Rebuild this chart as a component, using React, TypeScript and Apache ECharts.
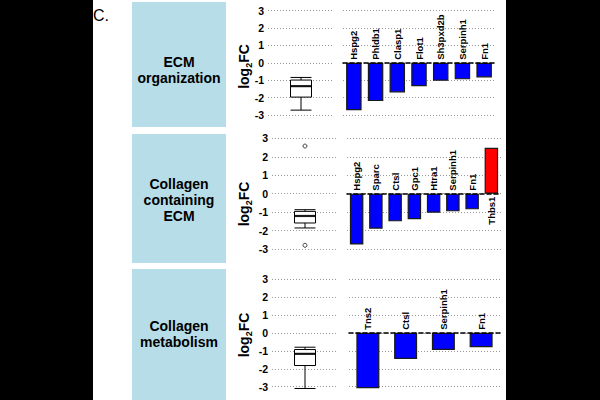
import React, { useEffect, useRef } from "react";
import * as echarts from "echarts";

// Gene-set panels: log2 fold change per gene, with a summary box plot
const panelTitles = ["ECM\norganization", "Collagen\ncontaining\nECM", "Collagen\nmetabolism"];

const genesEcmOrg = ["Hspg2", "Phldb1", "Clasp1", "Flot1", "Sh3pxd2b", "Serpinh1", "Fn1"];
const fcEcmOrg = [-2.72, -2.2, -1.7, -1.34, -1.03, -0.95, -0.84];

const genesCollagenEcm = ["Hspg2", "Sparc", "Ctsl", "Gpc1", "Htra1", "Serpinh1", "Fn1", "Thbs1"];
const fcCollagenEcm = [-2.76, -1.9, -1.5, -1.39, -1.03, -0.96, -0.85, 2.49];

const genesCollagenMet = ["Tns2", "Ctsl", "Serpinh1", "Fn1"];
const fcCollagenMet = [-3.08, -1.45, -0.95, -0.8];

// box plot summaries: [lower whisker, Q1, median, Q3, upper whisker]
const boxEcmOrg = [-2.72, -1.97, -1.34, -0.99, -0.84];
const boxCollagenEcm = [-1.86, -1.59, -1.21, -0.96, -0.87];
const boxCollagenMet = [-3.1, -1.82, -1.17, -0.93, -0.8];
const outliersCollagenEcm = [2.58, -2.8];

const yTicks = { min: -3, max: 3, interval: 1 };

const FONT = "'Liberation Sans', Arial, Helvetica, sans-serif";

export default function App() {
  const ref = useRef<HTMLDivElement>(null);

  useEffect(() => {
    if (!ref.current) return;
    const chart = echarts.init(ref.current, null, { renderer: "svg" });

    const rows = [
      { genes: genesEcmOrg, fc: fcEcmOrg, box: boxEcmOrg, outliers: [] as number[], top: 10.7, h: 104.3, boxLeft: 268, barLeft: 343, barW: 152, bw: 15.5 },
      { genes: genesCollagenEcm, fc: fcCollagenEcm, box: boxCollagenEcm, outliers: outliersCollagenEcm, top: 138.3, h: 110.7, boxLeft: 272, barLeft: 347, barW: 154, bw: 13.5 },
      { genes: genesCollagenMet, fc: fcCollagenMet, box: boxCollagenMet, outliers: [] as number[], top: 279, h: 107.7, boxLeft: 272, barLeft: 349, barW: 151, bw: 23 },
    ];

    const grid: any[] = [];
    const xAxis: any[] = [];
    const yAxis: any[] = [];
    const series: any[] = [];

    const splitLine = { show: true, lineStyle: { color: "#9a9a9a", type: [1, 2], width: 1 } };

    rows.forEach((r, i) => {
      const bi = i * 2;
      const ci = i * 2 + 1;
      grid.push({ left: r.boxLeft, width: 66, top: r.top, height: r.h, outerBoundsMode: "none" });
      grid.push({ left: r.barLeft, width: r.barW, top: r.top, height: r.h, outerBoundsMode: "none" });

      xAxis.push({ type: "category", gridIndex: bi, data: ["set"], show: false });
      xAxis.push({
        type: "category",
        gridIndex: ci,
        data: r.genes,
        axisLabel: { show: false },
        axisTick: { show: false },
        splitLine: { show: false },
        axisLine: { show: true, onZero: true, lineStyle: { color: "#000", width: 1.6, type: [4, 3] } },
        z: 5,
      });

      yAxis.push({
        type: "value",
        gridIndex: bi,
        ...yTicks,
        axisLine: { show: false },
        axisTick: { show: false },
        splitLine,
        axisLabel: { show: true, color: "#000", fontSize: 10.5, fontWeight: "bold", fontFamily: FONT, margin: 4 },
      });
      yAxis.push({
        type: "value",
        gridIndex: ci,
        ...yTicks,
        axisLine: { show: false },
        axisTick: { show: false },
        splitLine,
        axisLabel: { show: false },
      });

      series.push({
        type: "boxplot",
        xAxisIndex: bi,
        yAxisIndex: bi,
        data: [r.box],
        boxWidth: [21, 21],
        itemStyle: { color: "#fff", borderColor: "#000", borderWidth: 1 },
      });
      series.push({
        type: "scatter",
        xAxisIndex: bi,
        yAxisIndex: bi,
        symbol: "rect",
        symbolSize: [21, 2.2],
        data: [[0, r.box[2]]],
        itemStyle: { color: "#000" },
        z: 4,
      });
      if (r.outliers.length) {
        series.push({
          type: "scatter",
          xAxisIndex: bi,
          yAxisIndex: bi,
          symbol: "circle",
          symbolSize: 4,
          data: r.outliers.map((v) => [0, v]),
          itemStyle: { color: "#fff", borderColor: "#000", borderWidth: 0.9 },
          z: 4,
        });
      }

      const labelBase = {
        show: true,
        formatter: "{b}",
        rotate: 90,
        verticalAlign: "middle",
        distance: 3,
        color: "#000",
        fontSize: 9.5,
        fontWeight: "bold",
        fontFamily: FONT,
      };
      series.push({
        type: "bar",
        xAxisIndex: ci,
        yAxisIndex: ci,
        barWidth: r.bw,
        clip: false,
        data: r.fc.map((v) => ({
          value: v,
          itemStyle: { color: v < 0 ? "#0000FF" : "#FF0000" },
          label: v < 0 ? { ...labelBase, position: "top", align: "left" } : { ...labelBase, position: "bottom", align: "right" },
        })),
        itemStyle: { borderColor: "#1a1a1a", borderWidth: 1.2 },
        z: 3,
      });
    });

    const boxes = [
      { y: 2, h: 125, cy: 70 },
      { y: 134, h: 129, cy: 200 },
      { y: 269, h: 140, cy: 334 },
    ];

    const graphic: any[] = [];
    boxes.forEach((b, i) => {
      graphic.push({
        type: "rect",
        shape: { x: 132, y: b.y, width: 94, height: b.h },
        style: { fill: "#B6DDE8" },
        z: 0,
      });
      graphic.push({
        type: "text",
        x: 179,
        y: b.cy,
        style: {
          text: panelTitles[i],
          font: `bold 14px ${FONT}`,
          fill: "#000",
          align: "center",
          verticalAlign: "middle",
          lineHeight: 16,
        },
        z: 1,
      });
    });

    const yTitleCenters = [66.5, 204, 335];
    yTitleCenters.forEach((cy) => {
      graphic.push({
        type: "text",
        x: 244,
        y: cy,
        rotation: Math.PI / 2,
        style: {
          text: "{a|log}{b|2}{a|FC}",
          align: "center",
          verticalAlign: "middle",
          rich: {
            a: { fontSize: 14, fontWeight: "bold", fontFamily: FONT, fill: "#000", color: "#000", lineHeight: 18 },
            b: { fontSize: 9, fontWeight: "bold", fontFamily: FONT, fill: "#000", color: "#000", verticalAlign: "bottom", lineHeight: 18 },
          },
        },
        z: 1,
      });
    });

    graphic.push({
      type: "text",
      x: 93,
      y: 15,
      style: { text: "C.", font: `16px ${FONT}`, fill: "#000", align: "left", verticalAlign: "middle" },
      z: 1,
    });
    graphic.push({ type: "rect", shape: { x: 0, y: 0, width: 93, height: 400 }, style: { fill: "#000" }, z: 100 });
    graphic.push({ type: "rect", shape: { x: 506, y: 0, width: 94, height: 400 }, style: { fill: "#000" }, z: 100 });

    chart.setOption({
      animation: false,
      backgroundColor: "#fff",
      grid,
      xAxis,
      yAxis,
      series,
      graphic,
    });

    return () => chart.dispose();
  }, []);

  return <div ref={ref} style={{ position: "absolute", left: 0, top: 0, width: 600, height: 400 }} />;
}
